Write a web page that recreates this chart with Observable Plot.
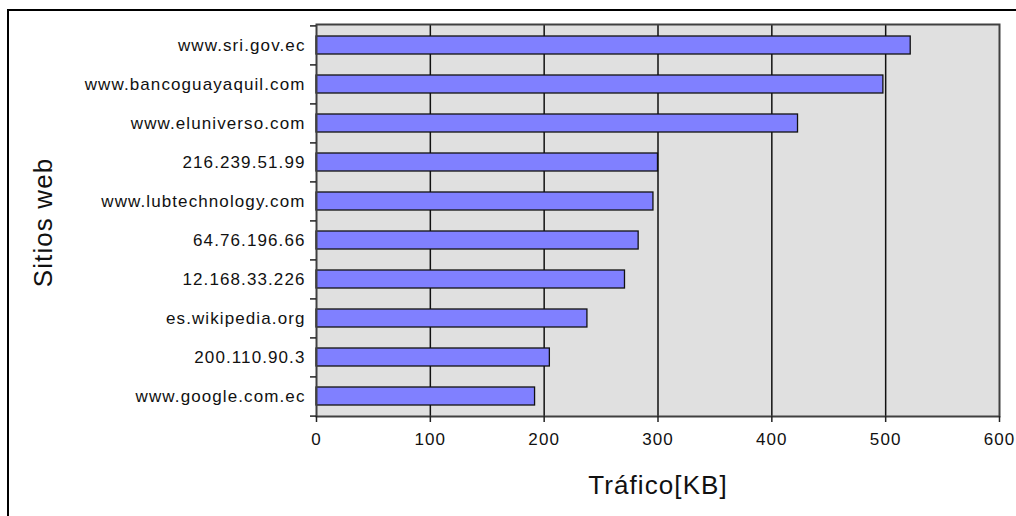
<!DOCTYPE html>
<html>
<head>
<meta charset="utf-8">
<script src="https://cdn.jsdelivr.net/npm/d3@7"></script>
<script src="https://cdn.jsdelivr.net/npm/@observablehq/plot@0.6"></script>
<style>
  html, body { margin: 0; padding: 0; background: #fff; overflow: hidden; }
  #wrap { position: relative; width: 1016px; height: 516px; overflow: hidden; }
  #border { position: absolute; left: 7px; top: 9px; width: 1100px; height: 600px; border: 2px solid #000; box-sizing: border-box; }
  #chart { position: absolute; left: 0; top: 0; }
  #chart svg text { letter-spacing: 1.1px; }
  #chart svg text.title { letter-spacing: 1px; }
</style>
</head>
<body>
<div id="wrap"><div id="border"></div><div id="chart"></div></div>
<script>
const sites = [
  "www.sri.gov.ec",
  "www.bancoguayaquil.com",
  "www.eluniverso.com",
  "216.239.51.99",
  "www.lubtechnology.com",
  "64.76.196.66",
  "12.168.33.226",
  "es.wikipedia.org",
  "200.110.90.3",
  "www.google.com.ec"
];
const traffic = [522, 498, 423, 300, 296, 283, 271, 238, 205, 192];
const xTicks = [0, 100, 200, 300, 400, 500, 600];
const gridTicks = [100, 200, 300, 400, 500];
const xTitle = "Tráfico[KB]";
const yTitle = "Sitios web";

const data = sites.map((s, i) => ({site: s, kb: traffic[i]}));
const bandStep = (516 - 24 - 100) / sites.length;

const chart = Plot.plot({
  width: 1016,
  height: 516,
  marginLeft: 316,
  marginRight: 17,
  marginTop: 24,
  marginBottom: 100,
  style: {background: "transparent", fontFamily: "'Liberation Sans', Arial, sans-serif", fontSize: "17px", color: "#000"},
  x: {domain: [0, 600], ticks: xTicks, label: null},
  y: {domain: sites, paddingInner: 0.54, paddingOuter: 0.27, label: null},
  marks: [
    Plot.frame({fill: "#e0e0e0"}),
    Plot.ruleX(gridTicks, {stroke: "#111", strokeWidth: 1.5}),
    Plot.barX(data, {y: "site", x: "kb", fill: "#8080ff", stroke: "#111", strokeWidth: 1.3}),
    Plot.frame({stroke: "#404040", strokeWidth: 2}),
    Plot.axisX({ticks: xTicks, tickSize: 6, tickPadding: 10, stroke: "#222", strokeWidth: 1.5, fontSize: 17, fill: "#111", label: null}),
    Plot.axisY({tickSize: 0, tickPadding: 11, fontSize: 17, fill: "#111", label: null}),
    Plot.ruleY(sites, {y: d => d, x1: 0, x2: 0, insetLeft: -6, dy: -bandStep / 2, stroke: "#222", strokeWidth: 1.5}),
    Plot.ruleY([sites[sites.length - 1]], {y: d => d, x1: 0, x2: 0, insetLeft: -6, dy: bandStep / 2, stroke: "#222", strokeWidth: 1.5}),
    Plot.text([xTitle], {text: d => d, frameAnchor: "bottom", textAnchor: "middle", dy: 69, fontSize: 26, fill: "#111", lineAnchor: "middle"}),
    Plot.text([yTitle], {text: d => d, frameAnchor: "left", textAnchor: "middle", dx: -273, dy: 2, rotate: -90, fontSize: 26, fill: "#111", lineAnchor: "middle"})
  ]
});
document.getElementById("chart").appendChild(chart);
</script>
</body>
</html>
